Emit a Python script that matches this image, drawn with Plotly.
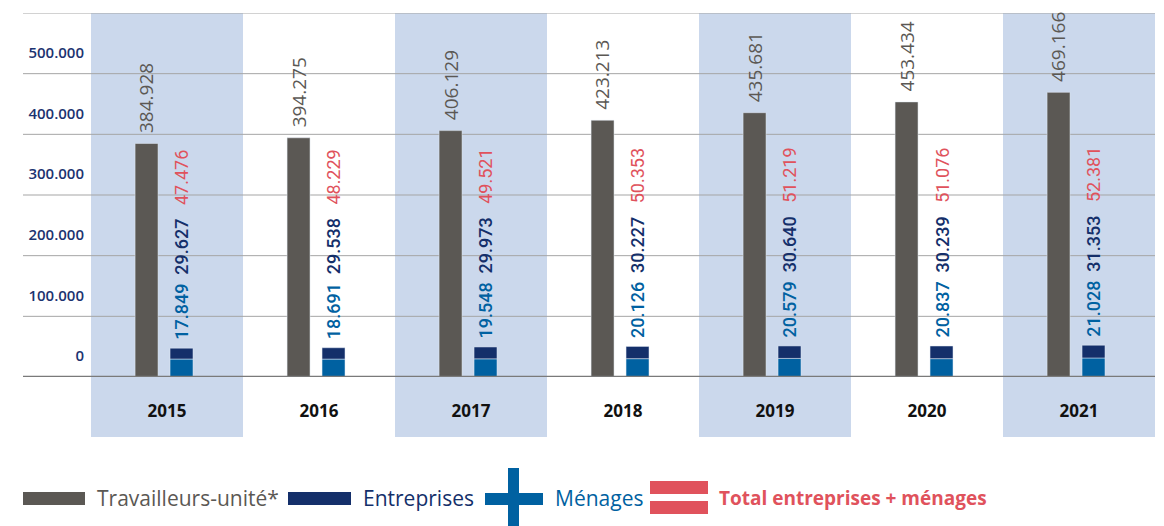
import plotly.graph_objects as go

# data
years = ["2015", "2016", "2017", "2018", "2019", "2020", "2021"]
travailleurs = [384928, 394275, 406129, 423213, 435681, 453434, 469166]
entreprises = [29627, 29538, 29973, 30227, 30640, 30239, 31353]
menages = [17849, 18691, 19548, 20126, 20579, 20837, 21028]
totals = [47476, 48229, 49521, 50353, 51219, 51076, 52381]
y_ticks = [0, 100000, 200000, 300000, 400000, 500000]
grid_vals = [100000, 200000, 300000, 400000, 500000, 600000]

GRAY = "#5b5854"
NAVY = "#142f6a"
BLUE = "#0061a1"
RED = "#e0525c"
BAND = "#cbd8ec"
GRID = "#a5a5a5"
AXIS = "#7a7a7a"

W, H = 1164, 526
ML, MR, MT, MB = 91, 9, 13, 149
PW, PH = W - ML - MR, H - MT - MB


def px(x):
    return (x - ML) / PW


def py(y):
    return (H - MB - y) / PH


def fmt(v):
    return f"{v:,}".replace(",", ".")


BAR_W = 0.151
GRAY_OFF = -0.21
STACK_OFF = 0.02

fig = go.Figure()

fig.add_trace(go.Bar(x=years, y=travailleurs, name="Travailleurs-unité*",
                     marker_color=GRAY, width=BAR_W, offset=GRAY_OFF))
# stacked bar as drawn in the picture: blue bottom, navy top
fig.add_trace(go.Bar(x=years, y=entreprises, name="Entreprises",
                     marker_color=BLUE, width=BAR_W, offset=STACK_OFF))
fig.add_trace(go.Bar(x=years, y=menages, base=entreprises, name="Ménages",
                     marker_color=NAVY, width=BAR_W, offset=STACK_OFF))

shapes = []
# alternating background bands
for i in range(0, len(years), 2):
    shapes.append(dict(type="rect", xref="x", yref="paper",
                       x0=i - 0.5, x1=i + 0.5, y0=py(437), y1=1,
                       fillcolor=BAND, line_width=0, layer="below"))
# gridlines running left under the tick labels
for g in grid_vals:
    shapes.append(dict(type="line", xref="paper", yref="y",
                       x0=px(23), x1=1, y0=g, y1=g,
                       line=dict(color=GRID, width=1), layer="below"))
shapes.append(dict(type="line", xref="paper", yref="y", x0=px(23), x1=1,
                   y0=0, y1=0, line=dict(color=AXIS, width=2.5), layer="above"))

annotations = []
for i in range(len(years)):
    annotations.append(dict(x=i + GRAY_OFF + BAR_W / 2, y=travailleurs[i],
                            xref="x", yref="y", text=fmt(travailleurs[i]),
                            textangle=-90, showarrow=False, yanchor="bottom",
                            xanchor="center", yshift=8,
                            font=dict(family="Open Sans", size=19, color=GRAY)))
    txt = (f"<span style='color:{BLUE};font-weight:500'>{fmt(menages[i])}</span>"
           f"&nbsp;&nbsp;"
           f"<span style='color:{NAVY};font-weight:500'>{fmt(entreprises[i])}</span>"
           f"&nbsp;&nbsp;&nbsp;"
           f"<span style='color:{RED}'>{fmt(totals[i])}</span>")
    annotations.append(dict(x=i + STACK_OFF + BAR_W / 2, y=totals[i],
                            xref="x", yref="y", text=txt,
                            textangle=-90, showarrow=False, yanchor="bottom",
                            xanchor="center", yshift=6,
                            font=dict(family="Roboto", size=18)))

# custom legend at the bottom
ly = 498
shapes.append(dict(type="rect", xref="paper", yref="paper", x0=px(23), x1=px(85),
                   y0=py(505), y1=py(492), fillcolor=GRAY, line_width=0))
shapes.append(dict(type="rect", xref="paper", yref="paper", x0=px(288), x1=px(351),
                   y0=py(505), y1=py(492), fillcolor=NAVY, line_width=0))
shapes.append(dict(type="rect", xref="paper", yref="paper", x0=px(485), x1=px(543),
                   y0=py(505), y1=py(493), fillcolor=BLUE, line_width=0))
shapes.append(dict(type="rect", xref="paper", yref="paper", x0=px(508), x1=px(519),
                   y0=py(530), y1=py(468), fillcolor=BLUE, line_width=0))
shapes.append(dict(type="rect", xref="paper", yref="paper", x0=px(650), x1=px(708),
                   y0=py(494), y1=py(481), fillcolor=RED, line_width=0))
shapes.append(dict(type="rect", xref="paper", yref="paper", x0=px(650), x1=px(708),
                   y0=py(514), y1=py(501), fillcolor=RED, line_width=0))

legend_items = [
    (95, "Travailleurs-unité*", GRAY, 400, 21),
    (361, "Entreprises", NAVY, 400, 21),
    (553, "Ménages", BLUE, 400, 21),
    (717, "Total entreprises + ménages", RED, 700, 19),
]
for x0, label, col, wt, sz in legend_items:
    annotations.append(dict(x=px(x0), y=py(ly), xref="paper", yref="paper",
                            text=label, showarrow=False, xanchor="left",
                            yanchor="middle",
                            font=dict(family="Open Sans", size=sz, color=col,
                                      weight=wt)))

fig.update_layout(
    width=W, height=H,
    margin=dict(l=ML, r=MR, t=MT, b=MB),
    paper_bgcolor="white", plot_bgcolor="rgba(0,0,0,0)",
    barmode="overlay", showlegend=False,
    shapes=shapes, annotations=annotations,
    font=dict(family="Open Sans"),
)
fig.update_xaxes(range=[-0.5, 6.5], showgrid=False, zeroline=False,
                 showline=False, ticks="", ticklabelstandoff=22,
                 tickfont=dict(family="Open Sans", size=17, color="#111111",
                               weight=700))
fig.update_yaxes(range=[0, 600000], showgrid=False, zeroline=False,
                 showline=False, tickvals=y_ticks,
                 ticktext=[fmt(v) for v in y_ticks], ticks="",
                 ticklabelshift=-21, ticklabelstandoff=6,
                 tickfont=dict(family="Open Sans", size=15, color="#1c3370",
                               weight=600))

# drop the browser's default page margin so the figure sits at (0, 0)
fig.write_html("out.html", config={"displayModeBar": False},
               post_script="document.body.style.margin='0';")
